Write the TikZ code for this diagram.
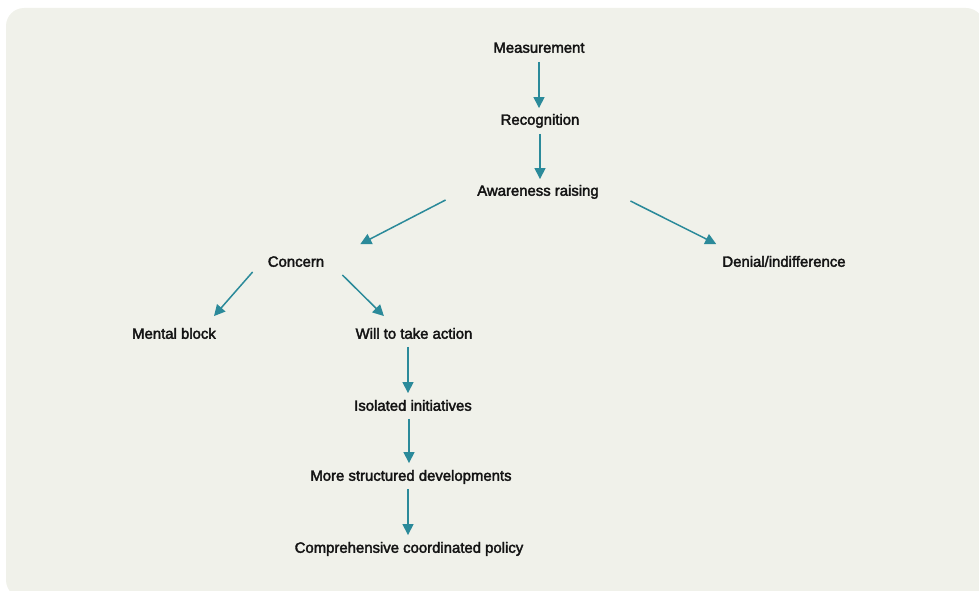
\documentclass[tikz,border=0pt]{standalone}
\usepackage{fontspec}
\usepackage{tikz}
\usetikzlibrary{arrows.meta,calc}
\font\stagefont="Liberation Sans:embolden=2.4" at 14.9pt
\definecolor{panel}{HTML}{F0F1EA}
\definecolor{teal}{HTML}{2B8A9A}
\definecolor{ink}{HTML}{141414}
\tikzset{stage/.style={font=\stagefont, text=ink,
    inner xsep=6pt, inner ysep=6pt, text height=10.5pt, text depth=3pt},
  flow/.style={draw=teal, line width=1.5pt, -{Triangle[width=11pt,length=11pt]}}
}

\begin{document}
\begin{tikzpicture}[x=1pt,y=-1pt]
                \useasboundingbox (0,0) rectangle (979,591);
                \fill[panel, rounded corners=18pt] (6,8) rectangle (984,598);  % Panel

                % Stages
                \node[stage] (meas) at (539,49) {Measurement};
                \node[stage] (recog) at (540,121) {Recognition};
                \node[stage] (aware) at (538,192) {Awareness raising};
                \node[stage] (concern) at (296,263) {Concern};
                \node[stage] (denial) at (784,263) {Denial/indifference};
                \node[stage] (block) at (174,335) {Mental block};
                \node[stage] (will) at (414,335) {Will to take action};
                \node[stage] (iso) at (413,407) {Isolated initiatives};
                \node[stage] (more) at (411,477) {More structured developments};
                \node[stage] (comp) at (409,549) {Comprehensive coordinated policy};

                % Arrows
                \draw[flow] (meas) -- (meas |- recog.north);
                \draw[flow] (recog) -- (recog |- aware.north);
                \draw[flow] ($(aware.west)+(-25.5,8)$) -- ($(concern.north east)+(30,-6)$);
                \draw[flow] ($(aware.east)+(25.5,9)$) -- ($(denial.north west)+(0,-6)$);
                \draw[flow] ($(concern.south west)+(-9,-4)$) -- ($(block.north east)+(-8,-6)$);
                \draw[flow] ($(concern.south east)+(12,-1)$) -- ($(will.north west)+(34.5,-6)$);
                \draw[flow] ($(will.south)+(-6,-1)$) -- ($(iso.north)+(-5,-1)$);
                \draw[flow] ($(iso.south)+(-4,-1)$) -- ($(more.north)+(-2,-1)$);
                \draw[flow] ($(more.south)+(-3,-1)$) -- ($(comp.north)+(-1,-1)$);
            \end{tikzpicture}
\end{document}
